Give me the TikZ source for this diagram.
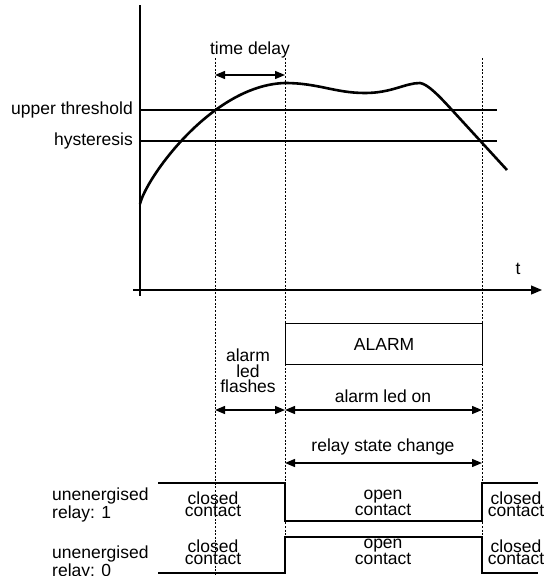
\documentclass[tikz,border=0pt]{standalone}
\usepackage{fontspec}
\setmainfont{Liberation Sans}
\usetikzlibrary{
  arrows.meta
}

\begin{document}
\begin{tikzpicture}[
  x=1pt,
  y=-1pt,
  font=\fontsize{17.5}{13}\selectfont,
  axis/.style={
    line width=1.2pt,
    draw=black
  },
  level/.style={
    line width=1.2pt,
    draw=black
  },
  signal/.style={
    line width=2.6pt,
    line join=miter,
    draw=black
  },
  marker/.style={
    line width=1pt,
    dash pattern=on 2pt off 1.6pt,
    draw=black
  },
  span/.style={
    {Triangle[length=10pt,width=8pt]}-{Triangle[length=10pt,width=8pt]},
    line width=1.3pt
  },
  lbl/.style={
    inner sep=0pt,
    text=black
  },
  stacked/.style={
    lbl,
    align=center,
    font=\fontsize{17.5}{12.5}\selectfont
  },
  box/.style={
    draw=black,
    line width=1.2pt,
    inner sep=0pt
  }
]
\useasboundingbox (0,0) rectangle (547,576);

% Key instants
\coordinate (onT)   at (215,58);
\coordinate (trip)  at (285,58);
\coordinate (reset) at (482,58);

% Axes
\draw[axis] (140,5) -- (140,296);
\draw[axis, -{Triangle[length=11pt,width=9pt]}] (133,290) -- (542,290);
\node[lbl] (tlab) at (518,269) {t};

% Threshold levels
\draw[level] (140,110) -- (497,110);
\draw[level] (140,141) -- (497,141);
\node[lbl, anchor=east] (upper) at (133,110) {upper threshold};
\node[lbl, anchor=east] (hyst) at (133,141) {hysteresis};

% Measured value
\draw[signal, line cap=butt]
  (140,204) .. controls (146,178) and (212,85) .. (285,83)
  .. controls (318,83) and (335,93) .. (365,93)
  .. controls (392,93) and (405,83) .. (420,83)
  .. controls (428,84) and (440,97) .. (452,110)
  -- (507,170);

% Time markers
\draw[marker] (onT) -- (215,576);
\draw[marker] (trip) -- (285,573);
\draw[marker] (reset) -- (482,573);

% Time delay
\coordinate (delayL) at (215,75);
\coordinate (delayR) at (285,75);
\draw[span] (delayL) -- (delayR);
\node[lbl] (delay) at (250,50) {time delay};

% Alarm
\node[box, minimum width=197pt, minimum height=41pt, anchor=north west] (alarm) at (285,323) {ALARM};
\coordinate (flashL) at (215,410);
\coordinate (flashR) at (285,410);
\coordinate (onR) at (482,410);
\draw[span] (flashL) -- (flashR);
\draw[span] (flashR) -- (onR);
\node[stacked, font=\fontsize{17.5}{15.5}\selectfont] (flashes) at (248,371) {alarm\\led\\flashes};
\node[lbl] (ledon) at (383,396) {alarm led on};

% Relay
\coordinate (relayL) at (285,463);
\coordinate (relayR) at (482,463);
\draw[span] (relayL) -- (relayR);
\node[lbl] (change) at (383,447) {relay state change};

\draw[signal] (158,483) -- (285,483) -- (285,521) -- (482,521) -- (482,483) -- (538,483);
\draw[signal] (158,573) -- (285,573) -- (285,537) -- (482,537) -- (482,573) -- (538,573);

\node[stacked, align=left, anchor=west] (relay1) at (52,505) {unenergised\\relay: 1};
\node[stacked, align=left, anchor=west] (relay0) at (52,563) {unenergised\\relay: 0};

\node[stacked] (closed1) at (213,504) {closed\\contact};
\node[stacked] (open1) at (383,503) {open\\contact};
\node[stacked] (closed1r) at (516,504) {closed\\contact};
\node[stacked] (closed0) at (213,552) {closed\\contact};
\node[stacked] (open0) at (383,552) {open\\contact};
\node[stacked] (closed0r) at (516,552) {closed\\contact};

\end{tikzpicture}
\end{document}
